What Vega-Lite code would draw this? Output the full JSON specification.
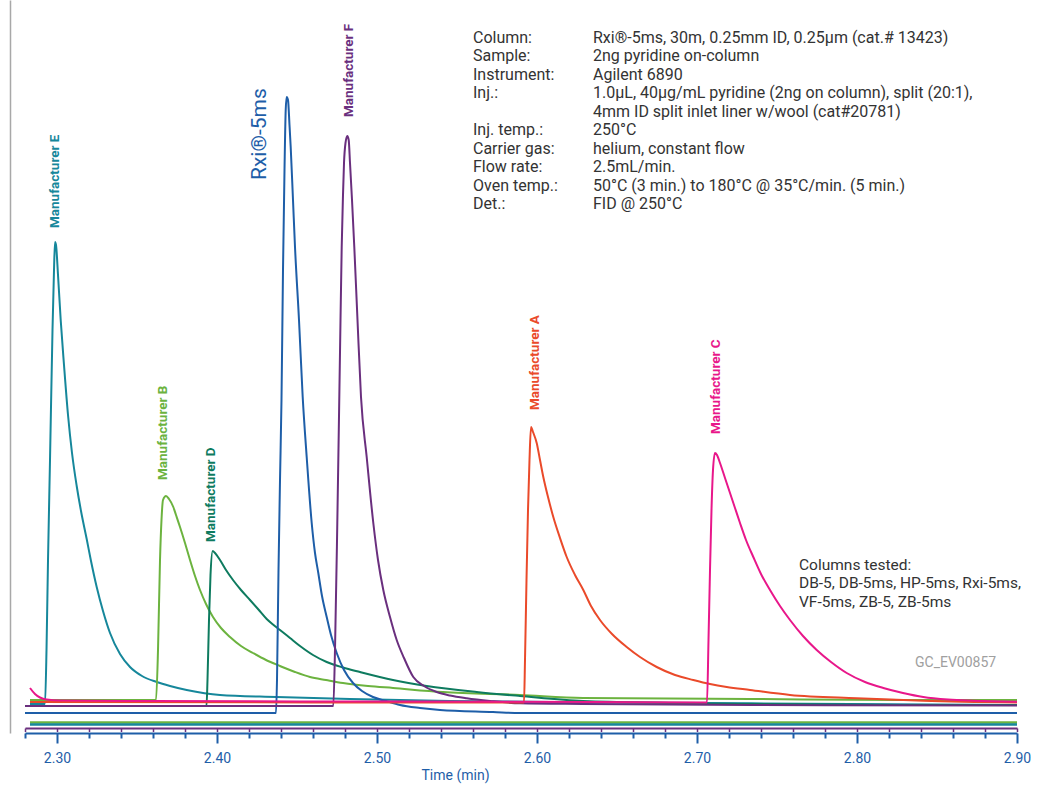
{
  "$schema": "https://vega.github.io/schema/vega-lite/v6.json",
  "width": 992,
  "height": 733,
  "autosize": {"type": "none"},
  "padding": {"left": 25, "top": 0, "right": 25, "bottom": 69},
  "background": "white",
  "config": {"view": {"stroke": null}},
  "datasets": {
    "traces": [
      {"s": "Manufacturer E", "t": 2.28313, "v": 29}, {"s": "Manufacturer E", "t": 2.2925, "v": 29}, {"s": "Manufacturer E", "t": 2.29344, "v": 83}, {"s": "Manufacturer E", "t": 2.29438, "v": 173}, {"s": "Manufacturer E", "t": 2.29563, "v": 273}, {"s": "Manufacturer E", "t": 2.29719, "v": 403}, {"s": "Manufacturer E", "t": 2.29813, "v": 463}, {"s": "Manufacturer E", "t": 2.29875, "v": 491}, {"s": "Manufacturer E", "t": 2.29938, "v": 488}, {"s": "Manufacturer E", "t": 2.30063, "v": 458}, {"s": "Manufacturer E", "t": 2.30231, "v": 413}, {"s": "Manufacturer E", "t": 2.30438, "v": 368}, {"s": "Manufacturer E", "t": 2.30688, "v": 318}, {"s": "Manufacturer E", "t": 2.30938, "v": 280}, {"s": "Manufacturer E", "t": 2.31231, "v": 247}, {"s": "Manufacturer E", "t": 2.315, "v": 222}, {"s": "Manufacturer E", "t": 2.31856, "v": 194}, {"s": "Manufacturer E", "t": 2.32125, "v": 172}, {"s": "Manufacturer E", "t": 2.32481, "v": 146}, {"s": "Manufacturer E", "t": 2.32875, "v": 122}, {"s": "Manufacturer E", "t": 2.33313, "v": 100}, {"s": "Manufacturer E", "t": 2.33938, "v": 79}, {"s": "Manufacturer E", "t": 2.34563, "v": 66}, {"s": "Manufacturer E", "t": 2.35313, "v": 57}, {"s": "Manufacturer E", "t": 2.36231, "v": 51}, {"s": "Manufacturer E", "t": 2.37063, "v": 47}, {"s": "Manufacturer E", "t": 2.38106, "v": 43}, {"s": "Manufacturer E", "t": 2.40188, "v": 38}, {"s": "Manufacturer E", "t": 2.43731, "v": 36}, {"s": "Manufacturer E", "t": 2.48313, "v": 34}, {"s": "Manufacturer E", "t": 2.54563, "v": 32}, {"s": "Manufacturer E", "t": 2.60813, "v": 31}, {"s": "Manufacturer E", "t": 2.70188, "v": 30}, {"s": "Manufacturer E", "t": 2.79563, "v": 29}, {"s": "Manufacturer E", "t": 2.9, "v": 28},
      {"s": "Manufacturer B", "t": 2.28313, "v": 33}, {"s": "Manufacturer B", "t": 2.36188, "v": 33}, {"s": "Manufacturer B", "t": 2.36313, "v": 83}, {"s": "Manufacturer B", "t": 2.36438, "v": 173}, {"s": "Manufacturer B", "t": 2.36531, "v": 213}, {"s": "Manufacturer B", "t": 2.36625, "v": 233}, {"s": "Manufacturer B", "t": 2.36813, "v": 237}, {"s": "Manufacturer B", "t": 2.37, "v": 234}, {"s": "Manufacturer B", "t": 2.37269, "v": 226}, {"s": "Manufacturer B", "t": 2.37438, "v": 218}, {"s": "Manufacturer B", "t": 2.37688, "v": 206}, {"s": "Manufacturer B", "t": 2.38, "v": 190}, {"s": "Manufacturer B", "t": 2.38313, "v": 173}, {"s": "Manufacturer B", "t": 2.38625, "v": 157}, {"s": "Manufacturer B", "t": 2.38938, "v": 143}, {"s": "Manufacturer B", "t": 2.39313, "v": 129}, {"s": "Manufacturer B", "t": 2.3975, "v": 116}, {"s": "Manufacturer B", "t": 2.4025, "v": 105}, {"s": "Manufacturer B", "t": 2.40813, "v": 96}, {"s": "Manufacturer B", "t": 2.415, "v": 87}, {"s": "Manufacturer B", "t": 2.4225, "v": 80}, {"s": "Manufacturer B", "t": 2.43063, "v": 73}, {"s": "Manufacturer B", "t": 2.43938, "v": 67}, {"s": "Manufacturer B", "t": 2.44875, "v": 61}, {"s": "Manufacturer B", "t": 2.45813, "v": 56}, {"s": "Manufacturer B", "t": 2.46813, "v": 53}, {"s": "Manufacturer B", "t": 2.47875, "v": 50}, {"s": "Manufacturer B", "t": 2.49438, "v": 47}, {"s": "Manufacturer B", "t": 2.51, "v": 45}, {"s": "Manufacturer B", "t": 2.54125, "v": 41}, {"s": "Manufacturer B", "t": 2.58938, "v": 38}, {"s": "Manufacturer B", "t": 2.62875, "v": 35}, {"s": "Manufacturer B", "t": 2.73313, "v": 34}, {"s": "Manufacturer B", "t": 2.82688, "v": 33}, {"s": "Manufacturer B", "t": 2.9, "v": 33},
      {"s": "Manufacturer D", "t": 2.28313, "v": 27}, {"s": "Manufacturer D", "t": 2.39344, "v": 27}, {"s": "Manufacturer D", "t": 2.39406, "v": 53}, {"s": "Manufacturer D", "t": 2.395, "v": 113}, {"s": "Manufacturer D", "t": 2.39594, "v": 158}, {"s": "Manufacturer D", "t": 2.39731, "v": 182}, {"s": "Manufacturer D", "t": 2.39875, "v": 180}, {"s": "Manufacturer D", "t": 2.40188, "v": 173}, {"s": "Manufacturer D", "t": 2.40563, "v": 163}, {"s": "Manufacturer D", "t": 2.41, "v": 153}, {"s": "Manufacturer D", "t": 2.415, "v": 143}, {"s": "Manufacturer D", "t": 2.42063, "v": 133}, {"s": "Manufacturer D", "t": 2.42563, "v": 124}, {"s": "Manufacturer D", "t": 2.43106, "v": 114}, {"s": "Manufacturer D", "t": 2.435, "v": 108.5}, {"s": "Manufacturer D", "t": 2.43938, "v": 103}, {"s": "Manufacturer D", "t": 2.44563, "v": 95}, {"s": "Manufacturer D", "t": 2.45188, "v": 87}, {"s": "Manufacturer D", "t": 2.46, "v": 78}, {"s": "Manufacturer D", "t": 2.46856, "v": 71}, {"s": "Manufacturer D", "t": 2.47875, "v": 65.5}, {"s": "Manufacturer D", "t": 2.48938, "v": 61}, {"s": "Manufacturer D", "t": 2.51, "v": 53}, {"s": "Manufacturer D", "t": 2.53106, "v": 47}, {"s": "Manufacturer D", "t": 2.56231, "v": 41}, {"s": "Manufacturer D", "t": 2.58938, "v": 37}, {"s": "Manufacturer D", "t": 2.62875, "v": 32}, {"s": "Manufacturer D", "t": 2.73313, "v": 29}, {"s": "Manufacturer D", "t": 2.82688, "v": 28}, {"s": "Manufacturer D", "t": 2.9, "v": 28},
      {"s": "Rxi-5ms", "t": 2.28, "v": 20}, {"s": "Rxi-5ms", "t": 2.43688, "v": 20}, {"s": "Rxi-5ms", "t": 2.4375, "v": 53}, {"s": "Rxi-5ms", "t": 2.43844, "v": 163}, {"s": "Rxi-5ms", "t": 2.43938, "v": 253}, {"s": "Rxi-5ms", "t": 2.44031, "v": 333}, {"s": "Rxi-5ms", "t": 2.44125, "v": 463}, {"s": "Rxi-5ms", "t": 2.44219, "v": 563}, {"s": "Rxi-5ms", "t": 2.44294, "v": 623}, {"s": "Rxi-5ms", "t": 2.44356, "v": 636}, {"s": "Rxi-5ms", "t": 2.44438, "v": 633}, {"s": "Rxi-5ms", "t": 2.44531, "v": 608}, {"s": "Rxi-5ms", "t": 2.44606, "v": 586}, {"s": "Rxi-5ms", "t": 2.4475, "v": 533}, {"s": "Rxi-5ms", "t": 2.44875, "v": 486}, {"s": "Rxi-5ms", "t": 2.45125, "v": 413}, {"s": "Rxi-5ms", "t": 2.45356, "v": 336}, {"s": "Rxi-5ms", "t": 2.45606, "v": 276}, {"s": "Rxi-5ms", "t": 2.45919, "v": 210}, {"s": "Rxi-5ms", "t": 2.46125, "v": 180}, {"s": "Rxi-5ms", "t": 2.46331, "v": 160}, {"s": "Rxi-5ms", "t": 2.46563, "v": 137}, {"s": "Rxi-5ms", "t": 2.46856, "v": 116}, {"s": "Rxi-5ms", "t": 2.47125, "v": 98}, {"s": "Rxi-5ms", "t": 2.47481, "v": 80}, {"s": "Rxi-5ms", "t": 2.47938, "v": 63}, {"s": "Rxi-5ms", "t": 2.485, "v": 50}, {"s": "Rxi-5ms", "t": 2.49063, "v": 42}, {"s": "Rxi-5ms", "t": 2.4975, "v": 36}, {"s": "Rxi-5ms", "t": 2.50563, "v": 32}, {"s": "Rxi-5ms", "t": 2.51438, "v": 28}, {"s": "Rxi-5ms", "t": 2.52688, "v": 25}, {"s": "Rxi-5ms", "t": 2.53938, "v": 23}, {"s": "Rxi-5ms", "t": 2.5725, "v": 21}, {"s": "Rxi-5ms", "t": 2.58938, "v": 20}, {"s": "Rxi-5ms", "t": 2.70188, "v": 20}, {"s": "Rxi-5ms", "t": 2.9, "v": 20},
      {"s": "Manufacturer F", "t": 2.28, "v": 27}, {"s": "Manufacturer F", "t": 2.47269, "v": 27}, {"s": "Manufacturer F", "t": 2.47375, "v": 83}, {"s": "Manufacturer F", "t": 2.47519, "v": 210}, {"s": "Manufacturer F", "t": 2.47644, "v": 336}, {"s": "Manufacturer F", "t": 2.47719, "v": 413}, {"s": "Manufacturer F", "t": 2.47794, "v": 486}, {"s": "Manufacturer F", "t": 2.47875, "v": 538}, {"s": "Manufacturer F", "t": 2.47938, "v": 570}, {"s": "Manufacturer F", "t": 2.48031, "v": 590}, {"s": "Manufacturer F", "t": 2.48144, "v": 597}, {"s": "Manufacturer F", "t": 2.48231, "v": 593}, {"s": "Manufacturer F", "t": 2.48313, "v": 570}, {"s": "Manufacturer F", "t": 2.48438, "v": 533}, {"s": "Manufacturer F", "t": 2.48581, "v": 486}, {"s": "Manufacturer F", "t": 2.48781, "v": 413}, {"s": "Manufacturer F", "t": 2.49, "v": 336}, {"s": "Manufacturer F", "t": 2.49356, "v": 276}, {"s": "Manufacturer F", "t": 2.49769, "v": 210}, {"s": "Manufacturer F", "t": 2.50063, "v": 173}, {"s": "Manufacturer F", "t": 2.50394, "v": 143}, {"s": "Manufacturer F", "t": 2.50813, "v": 116}, {"s": "Manufacturer F", "t": 2.51231, "v": 93}, {"s": "Manufacturer F", "t": 2.51688, "v": 75}, {"s": "Manufacturer F", "t": 2.52269, "v": 56}, {"s": "Manufacturer F", "t": 2.52938, "v": 47}, {"s": "Manufacturer F", "t": 2.53731, "v": 41}, {"s": "Manufacturer F", "t": 2.54563, "v": 37.5}, {"s": "Manufacturer F", "t": 2.55606, "v": 34.7}, {"s": "Manufacturer F", "t": 2.57063, "v": 32}, {"s": "Manufacturer F", "t": 2.58938, "v": 29.7}, {"s": "Manufacturer F", "t": 2.62875, "v": 29}, {"s": "Manufacturer F", "t": 2.73313, "v": 28}, {"s": "Manufacturer F", "t": 2.9, "v": 27.5},
      {"s": "Manufacturer A", "t": 2.28313, "v": 31}, {"s": "Manufacturer A", "t": 2.59188, "v": 30.5}, {"s": "Manufacturer A", "t": 2.5925, "v": 73}, {"s": "Manufacturer A", "t": 2.59344, "v": 153}, {"s": "Manufacturer A", "t": 2.59438, "v": 223}, {"s": "Manufacturer A", "t": 2.59531, "v": 273}, {"s": "Manufacturer A", "t": 2.59625, "v": 306}, {"s": "Manufacturer A", "t": 2.5975, "v": 301}, {"s": "Manufacturer A", "t": 2.59981, "v": 290}, {"s": "Manufacturer A", "t": 2.60188, "v": 273}, {"s": "Manufacturer A", "t": 2.60394, "v": 256}, {"s": "Manufacturer A", "t": 2.60688, "v": 236}, {"s": "Manufacturer A", "t": 2.61019, "v": 216}, {"s": "Manufacturer A", "t": 2.61438, "v": 195}, {"s": "Manufacturer A", "t": 2.61856, "v": 176}, {"s": "Manufacturer A", "t": 2.62375, "v": 158}, {"s": "Manufacturer A", "t": 2.62894, "v": 143}, {"s": "Manufacturer A", "t": 2.63375, "v": 127}, {"s": "Manufacturer A", "t": 2.63938, "v": 113}, {"s": "Manufacturer A", "t": 2.64688, "v": 99}, {"s": "Manufacturer A", "t": 2.65606, "v": 86}, {"s": "Manufacturer A", "t": 2.66438, "v": 76}, {"s": "Manufacturer A", "t": 2.67481, "v": 66}, {"s": "Manufacturer A", "t": 2.68625, "v": 58}, {"s": "Manufacturer A", "t": 2.69769, "v": 53}, {"s": "Manufacturer A", "t": 2.70813, "v": 49}, {"s": "Manufacturer A", "t": 2.71856, "v": 46}, {"s": "Manufacturer A", "t": 2.73313, "v": 43}, {"s": "Manufacturer A", "t": 2.75813, "v": 38}, {"s": "Manufacturer A", "t": 2.79981, "v": 34.7}, {"s": "Manufacturer A", "t": 2.84144, "v": 32.3}, {"s": "Manufacturer A", "t": 2.9, "v": 30.5},
      {"s": "Manufacturer C", "t": 2.28313, "v": 45}, {"s": "Manufacturer C", "t": 2.28625, "v": 39}, {"s": "Manufacturer C", "t": 2.28938, "v": 35.5}, {"s": "Manufacturer C", "t": 2.29356, "v": 33.5}, {"s": "Manufacturer C", "t": 2.30188, "v": 32.5}, {"s": "Manufacturer C", "t": 2.35813, "v": 32}, {"s": "Manufacturer C", "t": 2.45188, "v": 31.5}, {"s": "Manufacturer C", "t": 2.57688, "v": 31.3}, {"s": "Manufacturer C", "t": 2.70625, "v": 30.5}, {"s": "Manufacturer C", "t": 2.70719, "v": 93}, {"s": "Manufacturer C", "t": 2.70813, "v": 163}, {"s": "Manufacturer C", "t": 2.70906, "v": 223}, {"s": "Manufacturer C", "t": 2.71, "v": 263}, {"s": "Manufacturer C", "t": 2.71125, "v": 280}, {"s": "Manufacturer C", "t": 2.7125, "v": 278}, {"s": "Manufacturer C", "t": 2.71438, "v": 270}, {"s": "Manufacturer C", "t": 2.7175, "v": 255}, {"s": "Manufacturer C", "t": 2.72063, "v": 240}, {"s": "Manufacturer C", "t": 2.72375, "v": 225}, {"s": "Manufacturer C", "t": 2.72688, "v": 210}, {"s": "Manufacturer C", "t": 2.73063, "v": 193}, {"s": "Manufacturer C", "t": 2.73519, "v": 176}, {"s": "Manufacturer C", "t": 2.74, "v": 159}, {"s": "Manufacturer C", "t": 2.74563, "v": 143}, {"s": "Manufacturer C", "t": 2.75188, "v": 127}, {"s": "Manufacturer C", "t": 2.75813, "v": 113}, {"s": "Manufacturer C", "t": 2.76625, "v": 97}, {"s": "Manufacturer C", "t": 2.77481, "v": 83}, {"s": "Manufacturer C", "t": 2.78375, "v": 71}, {"s": "Manufacturer C", "t": 2.79356, "v": 60}, {"s": "Manufacturer C", "t": 2.805, "v": 51}, {"s": "Manufacturer C", "t": 2.81644, "v": 45}, {"s": "Manufacturer C", "t": 2.82875, "v": 40}, {"s": "Manufacturer C", "t": 2.84144, "v": 36}, {"s": "Manufacturer C", "t": 2.85688, "v": 33.5}, {"s": "Manufacturer C", "t": 2.87269, "v": 32.3}, {"s": "Manufacturer C", "t": 2.9, "v": 31.3}
    ],
    "baselines": [
      {"s": "Manufacturer B", "t": 2.28313, "t2": 2.9, "v": 10.5},
      {"s": "Manufacturer E", "t": 2.28313, "t2": 2.9, "v": 8.5}
    ],
    "peaklabels": [
      {"s": "Manufacturer E", "t": 2.29875, "v": 505, "text": "Manufacturer E"},
      {"s": "Manufacturer B", "t": 2.36594, "v": 253, "text": "Manufacturer B"},
      {"s": "Manufacturer D", "t": 2.39656, "v": 191, "text": "Manufacturer D"},
      {"s": "Manufacturer F", "t": 2.4825, "v": 616, "text": "Manufacturer F"},
      {"s": "Manufacturer A", "t": 2.59875, "v": 323, "text": "Manufacturer A"},
      {"s": "Manufacturer C", "t": 2.71188, "v": 299, "text": "Manufacturer C"}
    ],
    "rxilabel": [
      {"s": "Rxi-5ms", "t": 2.42688, "v": 553, "text": "Rxi®-5ms"}
    ],
    "notes": [
      {"t": 2.56, "v": 695.5, "text": "Column:"},
      {"t": 2.56, "v": 677, "text": "Sample:"},
      {"t": 2.56, "v": 658.5, "text": "Instrument:"},
      {"t": 2.56, "v": 640, "text": "Inj.:"},
      {"t": 2.56, "v": 603, "text": "Inj. temp.:"},
      {"t": 2.56, "v": 584.5, "text": "Carrier gas:"},
      {"t": 2.56, "v": 566, "text": "Flow rate:"},
      {"t": 2.56, "v": 547.5, "text": "Oven temp.:"},
      {"t": 2.56, "v": 529, "text": "Det.:"},
      {"t": 2.635, "v": 695.5, "text": "Rxi®-5ms, 30m, 0.25mm ID, 0.25µm (cat.# 13423)"},
      {"t": 2.635, "v": 677, "text": "2ng pyridine on-column"},
      {"t": 2.635, "v": 658.5, "text": "Agilent 6890"},
      {"t": 2.635, "v": 640, "text": "1.0µL, 40µg/mL pyridine (2ng on column), split (20:1),"},
      {"t": 2.635, "v": 621.5, "text": "4mm ID split inlet liner w/wool (cat#20781)"},
      {"t": 2.635, "v": 603, "text": "250°C"},
      {"t": 2.635, "v": 584.5, "text": "helium, constant flow"},
      {"t": 2.635, "v": 566, "text": "2.5mL/min."},
      {"t": 2.635, "v": 547.5, "text": "50°C (3 min.) to 180°C @ 35°C/min. (5 min.)"},
      {"t": 2.635, "v": 529, "text": "FID @ 250°C"}
    ],
    "tested": [
      {"t": 2.76375, "v": 168, "text": "Columns tested:"},
      {"t": 2.76375, "v": 149.7, "text": "DB-5, DB-5ms, HP-5ms, Rxi-5ms,"},
      {"t": 2.76375, "v": 131.3, "text": "VF-5ms, ZB-5, ZB-5ms"}
    ],
    "code": [
      {"t": 2.83625, "v": 70, "text": "GC_EV00857"}
    ]
  },
  "encoding": {
    "x": {"field": "t", "type": "quantitative", "scale": {"domain": [2.28, 2.9], "nice": false, "zero": false},
      "axis": {
        "orient": "bottom",
        "values": [2.28, 2.29, 2.3, 2.31, 2.32, 2.33, 2.34, 2.35, 2.36, 2.37, 2.38, 2.39, 2.4, 2.41, 2.42, 2.43, 2.44, 2.45, 2.46, 2.47, 2.48, 2.49, 2.5, 2.51, 2.52, 2.53, 2.54, 2.55, 2.56, 2.57, 2.58, 2.59, 2.6, 2.61, 2.62, 2.63, 2.64, 2.65, 2.66, 2.67, 2.68, 2.69, 2.7, 2.71, 2.72, 2.73, 2.74, 2.75, 2.76, 2.77, 2.78, 2.79, 2.8, 2.81, 2.82, 2.83, 2.84, 2.85, 2.86, 2.87, 2.88, 2.89, 2.9],
        "tickCount": 62,
        "tickSize": {"condition": {"test": "abs(datum.value*10 - round(datum.value*10)) < 0.01", "value": 10}, "value": 5},
        "labelExpr": "abs(datum.value*10 - round(datum.value*10)) < 0.01 ? format(datum.value, '.2f') : ''",
        "labelOverlap": false,
        "labelFlush": false,
        "labelBound": false,
        "domainColor": "#1e5ea8",
        "domainWidth": 2,
        "tickColor": "#1e5ea8",
        "tickWidth": 2,
        "labelColor": "#1e5ea8",
        "labelFont": "Roboto, sans-serif",
        "labelFontSize": 14,
        "labelPadding": 8,
        "grid": false,
        "title": "Time (min)",
        "titleColor": "#1e5ea8",
        "titleFont": "Roboto, sans-serif",
        "titleFontSize": 14,
        "titleFontWeight": "normal",
        "titleX": 430,
        "titleY": 42,
        "titleBaseline": "middle",
        "titleAnchor": null,
        "titleAlign": "center"
      }
    },
    "y": {"field": "v", "type": "quantitative", "scale": {"domain": [0, 733], "nice": false, "zero": false},
      "axis": {"domain": true, "domainColor": "#a8a8a8", "domainWidth": 1.5, "ticks": false, "labels": false, "grid": false, "title": null, "offset": 15}
    },
    "color": {"field": "s", "type": "nominal", "legend": null,
      "scale": {"domain": ["Manufacturer E", "Manufacturer B", "Manufacturer D", "Rxi-5ms", "Manufacturer F", "Manufacturer A", "Manufacturer C"],
                "range": ["#16879b", "#6cb33f", "#0e7b5f", "#1e5ea8", "#6a2f7e", "#ea4a2a", "#e8178a"]}}
  },
  "resolve": {"axis": {"x": "independent"}},
  "layer": [
    {
      "encoding": {
        "x": {"field": "t", "type": "quantitative", "scale": {"domain": [2.28, 2.9], "nice": false, "zero": false},
          "axis": {
            "orient": "bottom",
            "values": [2.28, 2.29, 2.3, 2.31, 2.32, 2.33, 2.34, 2.35, 2.36, 2.37, 2.38, 2.39, 2.4, 2.41, 2.42, 2.43, 2.44, 2.45, 2.46, 2.47, 2.48, 2.49, 2.5, 2.51, 2.52, 2.53, 2.54, 2.55, 2.56, 2.57, 2.58, 2.59, 2.6, 2.61, 2.62, 2.63, 2.64, 2.65, 2.66, 2.67, 2.68, 2.69, 2.7, 2.71, 2.72, 2.73, 2.74, 2.75, 2.76, 2.77, 2.78, 2.79, 2.8, 2.81, 2.82, 2.83, 2.84, 2.85, 2.86, 2.87, 2.88, 2.89, 2.9],
            "tickCount": 62,
            "offset": -5,
            "domainColor": "#6a2f7e",
            "domainWidth": 2,
            "tickColor": "#6a2f7e",
            "tickWidth": 1.5,
            "tickSize": 3.5,
            "labels": false,
            "grid": false,
            "title": null
          }
        }
      },
      "layer": [
        {
          "data": {"name": "baselines"},
          "mark": {"type": "rule", "strokeWidth": 2.5},
          "encoding": {"x2": {"field": "t2"}}
        }
      ]
    },
    {
      "layer": [
        {
          "data": {"name": "traces"},
          "mark": {"type": "line", "strokeWidth": 2, "interpolate": "monotone"},
          "encoding": {"order": {"field": "t", "type": "quantitative"}}
        },
        {
          "data": {"name": "peaklabels"},
          "mark": {"type": "text", "angle": 270, "align": "left", "baseline": "middle", "font": "Roboto, sans-serif", "fontWeight": "bold", "fontSize": 13.5},
          "encoding": {"text": {"field": "text"}}
        },
        {
          "data": {"name": "rxilabel"},
          "mark": {"type": "text", "angle": 270, "align": "left", "baseline": "middle", "font": "Roboto, sans-serif", "fontWeight": "normal", "fontSize": 21},
          "encoding": {"text": {"field": "text"}}
        },
        {
          "data": {"name": "notes"},
          "mark": {"type": "text", "align": "left", "baseline": "middle", "font": "Roboto, sans-serif", "fontSize": 16},
          "encoding": {"text": {"field": "text"}, "color": {"value": "#333333"}}
        },
        {
          "data": {"name": "tested"},
          "mark": {"type": "text", "align": "left", "baseline": "middle", "font": "Roboto, sans-serif", "fontSize": 15.5},
          "encoding": {"text": {"field": "text"}, "color": {"value": "#333333"}}
        },
        {
          "data": {"name": "code"},
          "mark": {"type": "text", "align": "left", "baseline": "middle", "font": "Roboto, sans-serif", "fontSize": 14},
          "encoding": {"text": {"field": "text"}, "color": {"value": "#a0a0a0"}}
        }
      ]
    }
  ]
}
